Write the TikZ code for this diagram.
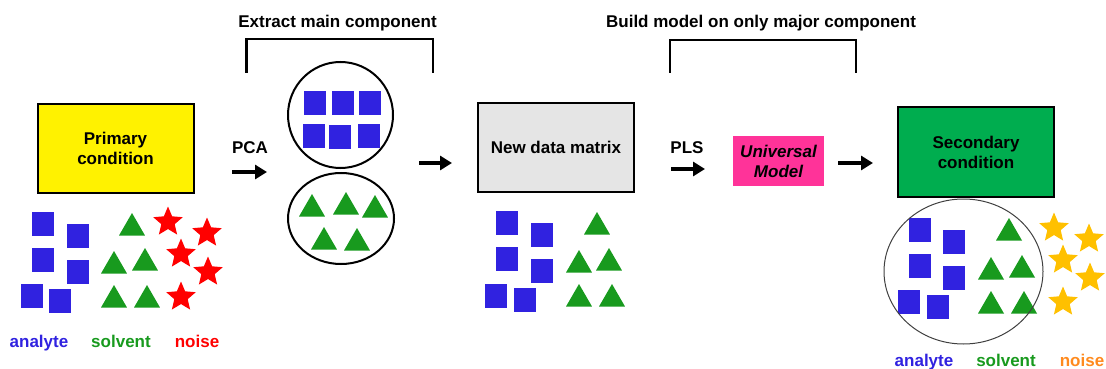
\documentclass[tikz,border=0pt]{standalone}
\usepackage{fontspec}
\setmainfont{Liberation Sans}
\usetikzlibrary{arrows.meta,shapes.geometric}
\definecolor{analytecol}{HTML}{3022E0}
\definecolor{solventcol}{HTML}{189A1E}
\definecolor{noisered}{HTML}{FF0000}
\definecolor{noisegold}{HTML}{FFC000}
\definecolor{noiseorange}{HTML}{FF8A1E}
\definecolor{matrixgray}{HTML}{E5E5E5}
\definecolor{secondgreen}{HTML}{00AD4F}
\definecolor{modelpink}{HTML}{FF3399}

\tikzset{
  lbl/.style={font=\fontsize{17}{20}\selectfont\bfseries, align=center},
  condbox/.style={draw, line width=2pt, minimum width=156pt, minimum height=89pt, lbl},
  sq/.style={fill=analytecol, minimum width=22pt, minimum height=24pt, inner sep=0pt},
  tri/.style={regular polygon, regular polygon sides=3, fill=solventcol, minimum size=30pt,
    inner sep=0pt, outer sep=0pt, anchor=corner 1},
  noisestar/.style={star, star points=5, star point ratio=2.2, minimum size=31pt,
    inner sep=0pt, fill=#1},
  grp/.style={ellipse, draw, line width=2pt, inner sep=0pt},
  arr/.style={line width=4.5pt, -{Triangle[length=12pt,width=14pt]}},
  bracket/.style={line width=2.5pt}
}

\begin{document}
\begin{tikzpicture}[x=1pt, y=-1pt]
    \useasboundingbox (0,0) rectangle (1106,369);

    % Primary condition and its mixture
    \node[condbox, fill=yellow] (prim) at (115.5,148.5) {Primary\\condition};
    \foreach \p [count=\i] in {(42.5,224),(77.5,235.5),(42.5,260),(77.5,272),(32,296),(60,301)}
        \node[sq] (pa\i) at \p {};
    \foreach \p [count=\i] in {(132,213),(114,251),(145,248),(114,285),(147,285)}
        \node[tri] (ps\i) at \p {};
    \foreach \p [count=\i] in {(168,222),(207,233),(181,254),(208,272),(181,297)}
        \node[noisestar=noisered] (pn\i) at \p {};
    \node[lbl, text=analytecol, anchor=base] (plA) at (39,347.5) {analyte};
    \node[lbl, text=solventcol, anchor=base] (plS) at (121,347.5) {solvent};
    \node[lbl, text=noisered, anchor=base] (plN) at (197,347.5) {noise};

    % PCA step
    \node[lbl] (pca) at (250,148) {PCA};
    \coordinate (pcaS) at (232,172);
    \coordinate (pcaE) at (267,172);
    \draw[arr] (pcaS) -- (pcaE);

    \node[lbl] (extract) at (337.5,23) {Extract main component};
    \draw[bracket] (246.5,73) |- (433,39) -- (433,73);

    \node[grp, minimum width=105pt, minimum height=106pt] (upper) at (340.5,115) {};
    \node[grp, minimum width=106pt, minimum height=91pt] (lower) at (341,218.5) {};
    \foreach \p [count=\i] in {(314.5,102.5),(343,102.5),(370,102.5),(313.5,135.5),(339.5,137),(368.5,136)}
        \node[sq] (ua\i) at \p {};
    \foreach \p [count=\i] in {(312,194),(346,192),(375,195),(324,227),(357,228)}
        \node[tri] (ls\i) at \p {};

    \coordinate (grpS) at (419,163);
    \coordinate (grpE) at (452,163);
    \draw[arr] (grpS) -- (grpE);

    % New data matrix
    \node[condbox, fill=matrixgray] (matrix) at (556,147.5) {New data matrix};
    \foreach \p [count=\i] in {(507,223),(542,235),(507,259),(542,271),(496,295.5),(525,300)}
        \node[sq] (ma\i) at \p {};
    \foreach \p [count=\i] in {(597,212),(579,250),(609,248),(579,284),(612,284)}
        \node[tri] (ms\i) at \p {};

    % PLS step
    \node[lbl] (pls) at (687,148) {PLS};
    \coordinate (plsS) at (671,169);
    \coordinate (plsE) at (705,169);
    \draw[arr] (plsS) -- (plsE);

    \node[lbl] (build) at (761,23) {Build model on only major component};
    \draw[bracket] (670,73) |- (856,40) -- (856,73);

    \node[lbl, fill=modelpink, minimum width=91pt, minimum height=50pt, font=\fontsize{17}{20}\selectfont\bfseries\itshape] (model) at (778.5,161) {Universal\\Model};
    \coordinate (modS) at (838,163);
    \coordinate (modE) at (873,163);
    \draw[arr] (modS) -- (modE);

    % Secondary condition and its mixture
    \node[condbox, fill=secondgreen, minimum height=90pt] (sec) at (976,152) {Secondary\\condition};
    \foreach \p [count=\i] in {(920,230),(954,242),(920,266),(954,278),(908.5,302),(938,307)}
        \node[sq] (sa\i) at \p {};
    \foreach \p [count=\i] in {(1009,218),(991,257),(1022,255),(991,291),(1024,291)}
        \node[tri] (ss\i) at \p {};
    \foreach \p [count=\i] in {(1054,228),(1089,239),(1063,260),(1090,278),(1063,302)}
        \node[noisestar=noisegold] (sn\i) at \p {};
    \node[ellipse, draw=black!75, line width=1pt, minimum width=159pt, minimum height=145pt] (keep) at (963.5,271.5) {};
    \node[lbl, text=analytecol, anchor=base] (slA) at (924,366.5) {analyte};
    \node[lbl, text=solventcol, anchor=base] (slS) at (1006,366.5) {solvent};
    \node[lbl, text=noiseorange, anchor=base] (slN) at (1082,366.5) {noise};
\end{tikzpicture}
\end{document}
